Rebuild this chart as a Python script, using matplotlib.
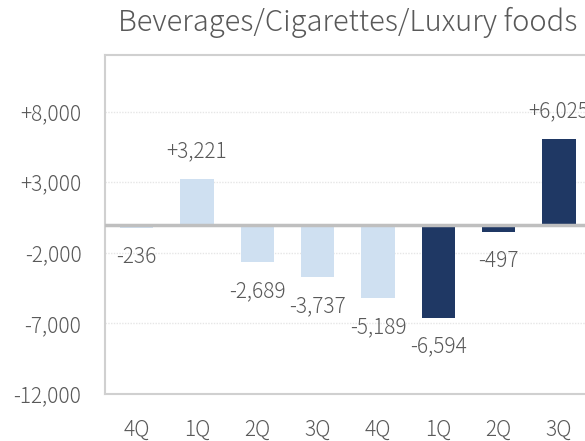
import matplotlib
matplotlib.use("Agg")
import matplotlib.pyplot as plt

# quarterly change, Beverages/Cigarettes/Luxury foods
quarters = ["4Q", "1Q", "2Q", "3Q", "4Q", "1Q", "2Q", "3Q"]
values = [-236, 3221, -2689, -3737, -5189, -6594, -497, 6025]
is_recent = [False, False, False, False, False, True, True, True]
y_ticks = [8000, 3000, -2000, -7000, -12000]

LIGHT = "#cfe0f1"
NAVY = "#1f3864"
TEXT = "#595959"

plt.rcParams["font.family"] = ["Noto Sans CJK JP", "DejaVu Sans"]
plt.rcParams["font.weight"] = "light"

fig = plt.figure(figsize=(5.85, 4.41), dpi=100)
# axes runs off the right edge, like the cropped original
ax = fig.add_axes([105 / 585, 1 - 394 / 441, 480 / 585, (394 - 55) / 441])

x = list(range(len(values)))
colors = [NAVY if r else LIGHT for r in is_recent]
ax.bar(x, values, width=0.55, color=colors, zorder=3)

for xi, v in zip(x, values):
    lab = f"{v:+,}"
    off = 28 if v >= 0 else -29
    ax.annotate(lab, (xi, v), xytext=(0, off), textcoords="offset pixels",
                ha="center", va="center", fontsize=15, color=TEXT,
                fontweight="light", annotation_clip=False)

ax.axhline(0, color="#bfbfbf", lw=2.5, zorder=4)

ax.set_ylim(-12000, 12000)
ax.set_xlim(-0.525, 7.43)
ax.set_yticks(y_ticks)
ax.set_yticklabels([f"{t:+,}" for t in y_ticks])
ax.set_xticks(x)
ax.set_xticklabels(quarters)
ax.tick_params(axis="both", length=0, labelsize=15, labelcolor=TEXT)
ax.tick_params(axis="y", pad=17)
ax.tick_params(axis="x", pad=18)
ax.grid(axis="y", color="#e6e6e6", lw=1, ls=(0, (1, 1)), zorder=0)

for s in ["left", "top", "bottom"]:
    ax.spines[s].set_color("#d0d0d0")
    ax.spines[s].set_linewidth(1.5)
ax.spines["right"].set_visible(False)

fig.text(348 / 585, 1 - 22 / 441, "Beverages/Cigarettes/Luxury foods",
         ha="center", va="center", fontsize=21, color=TEXT, fontweight="light")

fig.savefig("out.png", dpi=100)
